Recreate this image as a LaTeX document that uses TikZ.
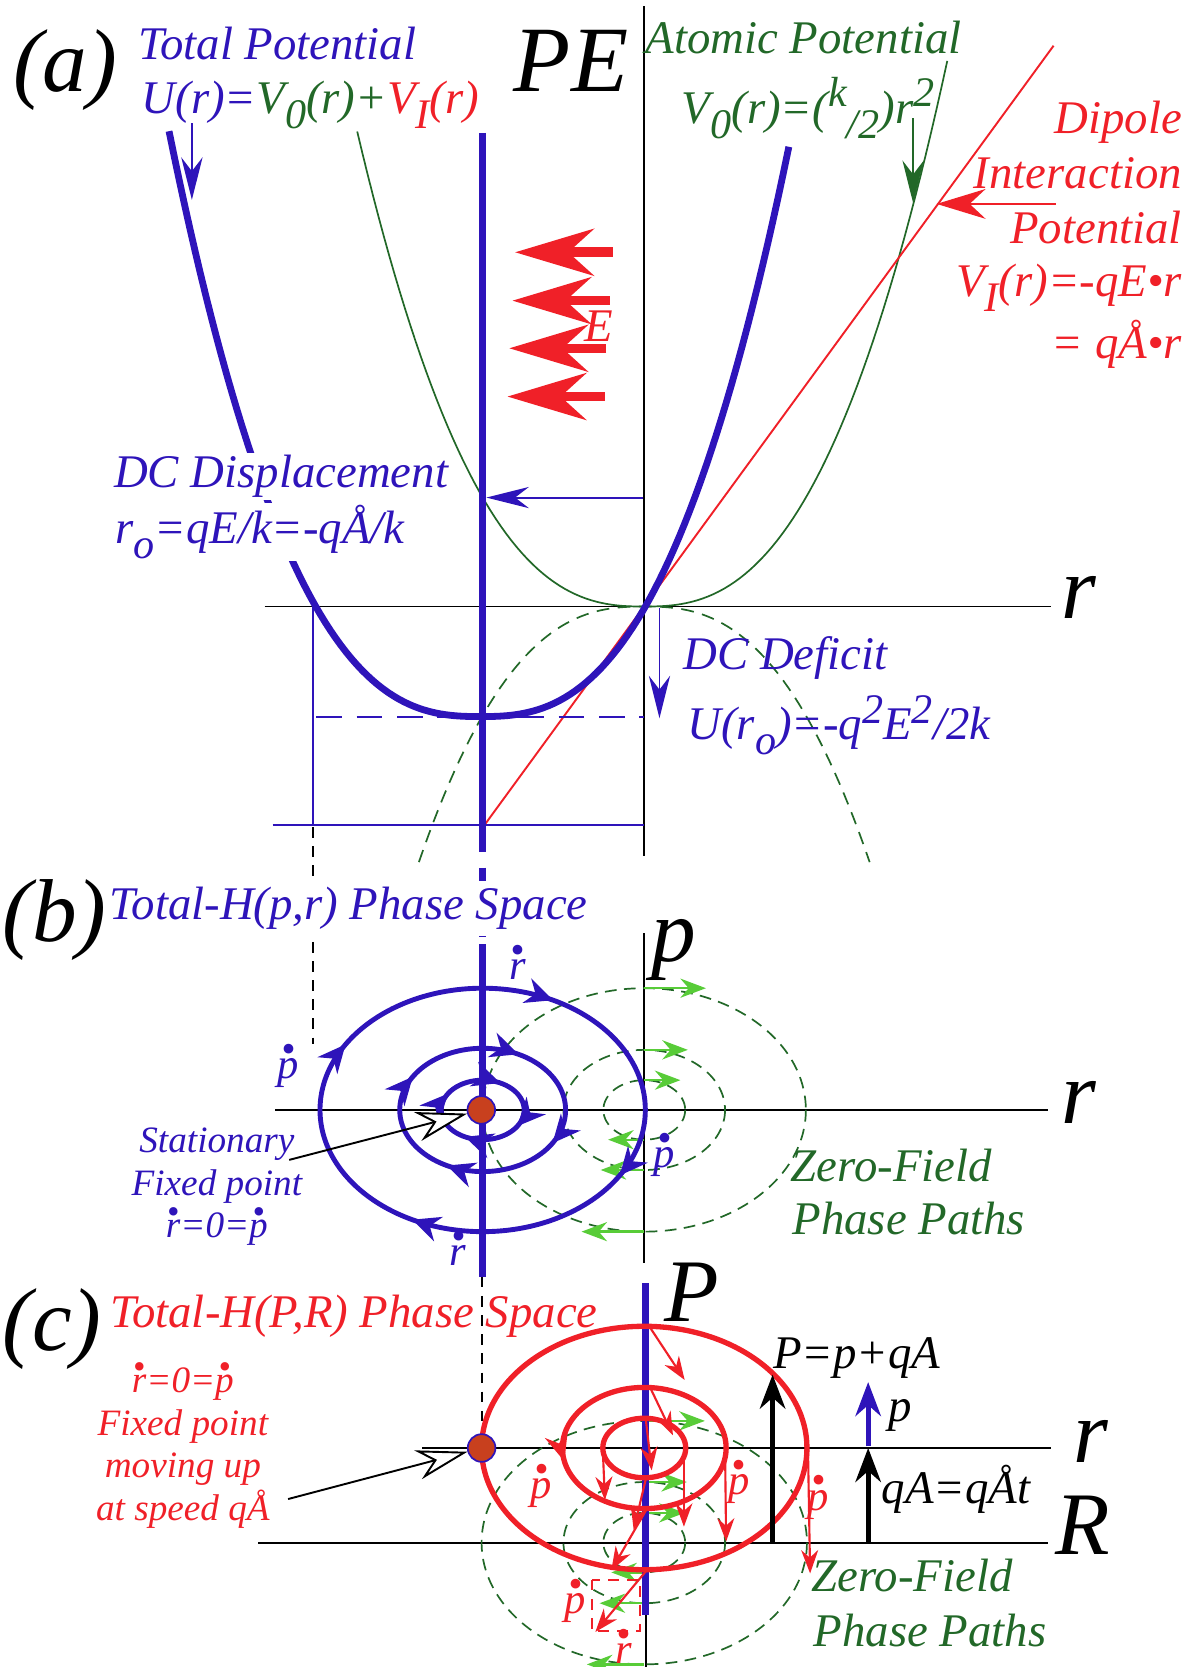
\documentclass[tikz,border=0pt]{standalone}
\usepackage{fontspec}
\setmainfont{Liberation Serif}
\usepackage{graphicx}
\usetikzlibrary{arrows.meta,decorations.markings}

\definecolor{potblue}{RGB}{46,20,186}
\definecolor{potred}{RGB}{240,32,40}
\definecolor{potgreen}{RGB}{34,104,40}
\definecolor{pathgreen}{RGB}{88,204,56}
\definecolor{fixfill}{RGB}{200,64,30}

\newcommand\lbl{\fontsize{22}{26}\selectfont\itshape}
\newcommand\axl{\fontsize{42}{46}\selectfont\itshape}
\newcommand\sml{\fontsize{17.5}{20}\selectfont\itshape}
\newcommand\dotl{\fontsize{20}{22}\selectfont\itshape}
\newcommand\dnsc[1]{\raisebox{-0.32em}{\scalebox{0.9}{#1}}}
\newcommand\upsc[1]{\raisebox{0.36em}{\scalebox{0.9}{#1}}}
\newcommand\bdot[1]{{\ooalign{#1\cr\hidewidth\raisebox{0.38em}{\scalebox{0.95}{•}}\hidewidth\cr}}}

\begin{document}
\begin{tikzpicture}[x=0.5pt,y=-0.5pt,
  declare function={gpot(\u)=102.5*\u*\u*sqrt(\u)*sqrt(sqrt(sqrt(sqrt(\u))));
                    upot(\u)=103.5*\u*\u*sqrt(\u)*sqrt(sqrt(sqrt(\u)));},
  axis/.style={black,line width=0.9pt},
  thinblue/.style={potblue,line width=0.9pt},
  lblarrow/.style={line width=0.9pt,-{Stealth[length=20pt,width=10pt]}},
  fieldarrow/.style={potred,line width=4.5pt,-{Stealth[length=37pt,width=22pt]}},
  potdash/.style={potgreen,line width=0.8pt,dash pattern=on 6pt off 4pt},
  zeroring/.style={potgreen,line width=0.8pt,dash pattern=on 5.5pt off 3.5pt},
  zeroarrow/.style={pathgreen,line width=1.1pt,-{Stealth[length=12pt,width=9pt]}},
  ringtip/.style={decoration={markings,
    mark=at position 0.08 with {\arrow{Stealth[length=13pt,width=12pt]}},
    mark=at position 0.33 with {\arrow{Stealth[length=13pt,width=12pt]}},
    mark=at position 0.58 with {\arrow{Stealth[length=13pt,width=12pt]}},
    mark=at position 0.83 with {\arrow{Stealth[length=13pt,width=12pt]}}},
    postaction={decorate}},
  bluering/.style={potblue,line width=2.3pt,ringtip},
  redring/.style={potred,line width=2.5pt},
  pdotarrow/.style={potred,line width=1pt,-{Stealth[length=11pt,width=8pt]}},
  momarrow/.style={line width=2.3pt,-{Stealth[length=16pt,width=12pt]}},
  openarrow/.style={black,line width=0.9pt,-{Stealth[length=24pt,width=14pt,fill=white]}},
  fixpt/.style={circle,fill=fixfill,draw=potblue,line width=0.8pt,minimum size=13pt,inner sep=0pt},
  lbl/.style={inner sep=0pt,font=\lbl},
  axlbl/.style={inner sep=0pt,font=\axl},
  dotlbl/.style={inner sep=0pt,font=\dotl},
  smlbl/.style={inner sep=0pt,font=\sml,align=center}]
\useasboundingbox (0,0) rectangle (1122,1568);

\draw[axis] (606,6) -- (606,805);
\draw[axis] (249,570.5) -- (989,570.5);
\draw[potgreen,line width=0.8pt] plot[domain=-270:285,samples=112] ({606+\x},{570.5-gpot(abs(\x)/152)});
\draw[potdash] plot[domain=-212:212,samples=90] ({606+\x},{570.5+gpot(abs(\x)/152)});
\draw[potred,line width=0.9pt] (455,777) -- (991,43);
\draw[thinblue] (294.4,570.5) -- (294.4,776);
\draw[thinblue] (256.5,776) -- (605.5,776);
\draw[thinblue,dash pattern=on 12pt off 7pt] (297.5,674.7) -- (605.5,674.7);
\draw[black,line width=0.9pt,dash pattern=on 5pt off 4pt] (294.4,778) -- (294.4,982);
\draw[potblue,line width=3.2pt] plot[domain=-293:290,samples=120] ({452+\x},{674-upot(abs(\x)/155)});
\draw[potblue,line width=3.25pt] (454,125) -- (454,776);
\draw[potblue,line width=3.25pt,dash pattern=on 12.5pt off 7.5pt] (454,776) -- (454,888);
\draw[fieldarrow] (576.2,237.3) -- (484.5,237.3);
\draw[fieldarrow] (573.7,282.8) -- (482,282.8);
\draw[fieldarrow] (570.1,327.6) -- (479,327.6);
\draw[fieldarrow] (569,373) -- (477.3,373);
\draw[thinblue,lblarrow] (180.5,116) -- (180.5,188);
\draw[potgreen,lblarrow] (858.9,111) -- (858.9,191);
\draw[potred,line width=0.9pt,-{Stealth[length=23pt,width=14pt]}] (993,191.8) -- (881,191.8);
\draw[thinblue,lblarrow] (605,468) -- (457.5,468);
\draw[thinblue,lblarrow] (620.3,572) -- (620.3,675.6);

\node[axlbl,anchor=base west] (labA) at (12,86) {(a)};
\node[lbl,text=potblue,anchor=base west] (tTotal) at (130,56) {Total Potential};
\node[lbl,anchor=base west] (tU) at (133,107) {{\color{potblue}U(r)=}{\color{potgreen}V\dnsc{0}(r)+}{\color{potred}V\dnsc{I}(r)}};
\node[inner sep=0pt,font=\fontsize{44}{48}\selectfont\itshape,anchor=base west] (tPE) at (483,86) {PE};
\node[lbl,text=potgreen,anchor=base west] (tAtomic) at (607,50) {Atomic Potential};
\node[lbl,text=potgreen,anchor=base west] (tVzero) at (641,116) {V\dnsc{0}(r)=(\upsc{k}\dnsc{/2})r\upsc{2}};
\node[lbl,text=potred,anchor=base east] (tDipole) at (1112,125.4) {Dipole};
\node[lbl,text=potred,anchor=base east] (tInter) at (1112,177) {Interaction};
\node[lbl,text=potred,anchor=base east] (tPotl) at (1112,229) {Potential};
\node[lbl,text=potred,anchor=base east] (tVI) at (1112,279) {V\dnsc{I}(r)=-qE•r};
\node[lbl,text=potred,anchor=base east] (tVIb) at (1112,337) {= qÅ•r};
\node[lbl,text=potred,anchor=base west] (tE) at (549,321) {E};
\node[lbl,text=potblue,fill=white,inner ysep=1pt,anchor=base west] (tDCdisp) at (107,459) {DC Displacement};
\node[lbl,text=potblue,fill=white,inner ysep=1pt,anchor=base west] (tRo) at (108,511) {r\dnsc{o}=qE/k=-qÅ/k};
\node[lbl,text=potblue,anchor=base west] (tDCdef) at (642.5,630) {DC Deficit};
\node[lbl,text=potblue,anchor=base west] (tUro) at (646.4,696) {U(r\dnsc{o})=-q\upsc{2}E\upsc{2}/2k};
\node[axlbl,anchor=base west] (tRa) at (998,582) {r};

\draw[axis] (606,878) -- (606,1188);
\draw[axis] (259,1044) -- (986,1044);
\foreach \rx/\ry in {38.5/28,76/56.5,152/114.5}
  \draw[zeroring] (606,1044) ellipse [x radius=\rx, y radius=\ry];
\draw[zeroarrow] (606,929.5) -- (664,929.5);
\draw[zeroarrow] (606,987.5) -- (647,987.5);
\draw[zeroarrow] (606,1016) -- (640,1016);
\draw[zeroarrow] (606,1072) -- (572,1072);
\draw[zeroarrow] (606,1100.5) -- (565,1100.5);
\draw[zeroarrow] (606,1158.5) -- (547,1158.5);
\foreach \rx/\ry in {39/28,78/58,153/114.5}
  \draw[bluering] (454,1044) ellipse [x radius=\rx, y radius=\ry];
\draw[potblue,line width=3.25pt] (454,888) -- (454,1201);
\node[fixpt] (fixB) at (452.7,1044) {};
\node[axlbl,anchor=base west] (labB) at (2,886) {(b)};
\node[lbl,text=potblue,fill=white,inner xsep=0pt,inner ysep=3pt,anchor=base west] (tTotalB) at (103,865) {Total-H(p,r) Phase Space};
\node[axlbl,anchor=base west] (tPb) at (612,904) {p};
\node[axlbl,anchor=base west] (tRb) at (998,1057) {r};
\node[dotlbl,text=potblue] (rdTop) at (487,912) {\bdot{r}};
\node[dotlbl,text=potblue] (pdLeft) at (271,1005) {\bdot{p}};
\node[dotlbl,text=potblue] (pdRight) at (625,1089) {\bdot{p}};
\node[dotlbl,text=potblue] (rdBot) at (431,1181) {\bdot{r}};
\node[smlbl,text=potblue] (tStat) at (204,1113) {Stationary\\Fixed point\\\bdot{r}=0=\bdot{p}};
\coordinate (statTail) at (272,1091);
\draw[openarrow] (statTail) -- (fixB);
\node[lbl,text=potgreen,anchor=base west] (tZeroB) at (743.5,1111) {Zero-Field};
\node[lbl,text=potgreen,anchor=base west] (tPathB) at (745,1161) {Phase Paths};

\draw[axis] (397,1362) -- (989,1362);
\draw[axis] (243,1451) -- (986,1451);
\draw[axis] (607.5,1519) -- (607.5,1568);
\draw[black,line width=0.9pt,dash pattern=on 5pt off 4pt] (453,1201) -- (453,1349);
\foreach \rx/\ry in {38.5/28,76/57,153/114.5}
  \draw[zeroring] (606,1451) ellipse [x radius=\rx, y radius=\ry];
\draw[zeroarrow] (606,1336.5) -- (663,1336.5);
\draw[zeroarrow] (606,1394) -- (646,1394);
\draw[zeroarrow] (606,1423) -- (644,1423);
\draw[zeroarrow] (606,1479) -- (575,1479);
\draw[zeroarrow] (606,1508) -- (564,1508);
\draw[zeroarrow] (606,1565.5) -- (552,1565.5);
\draw[potblue,line width=3.25pt] (607.5,1207) -- (607.5,1519);
\draw[redring] (606,1362) ellipse [x radius=39, y radius=28];
\draw[redring,decoration={markings,mark=at position 0.47 with {\arrowreversed{Stealth[length=13pt,width=11pt]}}},postaction={decorate}] (606,1362) ellipse [x radius=77, y radius=57];
\draw[redring] (606,1362) ellipse [x radius=153, y radius=114.5];
\draw[pdotarrow] (611,1248) -- (644,1298);
\draw[pdotarrow] (611,1304) -- (633,1350);
\draw[pdotarrow] (607.5,1335.5) -- (613,1383);
\draw[pdotarrow] (643.3,1363.7) -- (643.3,1436);
\draw[pdotarrow] (682,1363.7) -- (683,1450);
\draw[pdotarrow] (760,1363.7) -- (762,1480);
\draw[pdotarrow] (567,1363.7) -- (569,1411);
\draw[pdotarrow] (608,1389) -- (596,1439);
\draw[pdotarrow] (608,1420) -- (575,1477);
\draw[pdotarrow] (610,1475) -- (560,1535);
\draw[potred,line width=0.9pt,dash pattern=on 5pt off 4pt] (557,1486) rectangle (602,1534.5);
\draw[momarrow,black] (726.7,1451) -- (726.7,1293);
\draw[momarrow,black] (816.6,1451) -- (816.6,1362);
\draw[momarrow,potblue] (816.6,1360.5) -- (816.6,1300);
\node[fixpt] (fixC) at (453,1362) {};
\node[axlbl,anchor=base west] (labC) at (2,1270) {(c)};
\node[lbl,text=potred,anchor=base west] (tTotalC) at (103.5,1249) {Total-H(P,R) Phase Space};
\node[axlbl,anchor=base west] (tPc) at (625,1243) {P};
\node[axlbl,anchor=base west] (tRc) at (1009,1376) {r};
\node[axlbl,anchor=base west] (tRR) at (992,1462) {R};
\node[smlbl,text=potred] (tFixC) at (172,1362) {\bdot{r}=0=\bdot{p}\\Fixed point\\moving up\\at speed qÅ};
\coordinate (movTail) at (271,1410);
\draw[openarrow] (movTail) -- (fixC);
\node[lbl,anchor=base west] (tPeq) at (727,1287) {P=p+qA};
\node[lbl,anchor=base west] (tPsm) at (835,1337) {p};
\node[lbl,anchor=base west] (tQA) at (829,1414) {qA=qÅt};
\node[dotlbl,text=potred] (pdC1) at (509,1400) {\bdot{p}};
\node[dotlbl,text=potred] (pdC2) at (695,1396) {\bdot{p}};
\node[dotlbl,text=potred] (pdC3) at (770,1411) {\bdot{p}};
\node[dotlbl,text=potred] (pdC4) at (541,1508) {\bdot{p}};
\node[dotlbl,text=potred] (rdC) at (587,1555) {\bdot{r}};
\node[lbl,text=potgreen,anchor=base west] (tZeroC) at (763,1497) {Zero-Field};
\node[lbl,text=potgreen,anchor=base west] (tPathC) at (765,1548.6) {Phase Paths};
\end{tikzpicture}
\end{document}
